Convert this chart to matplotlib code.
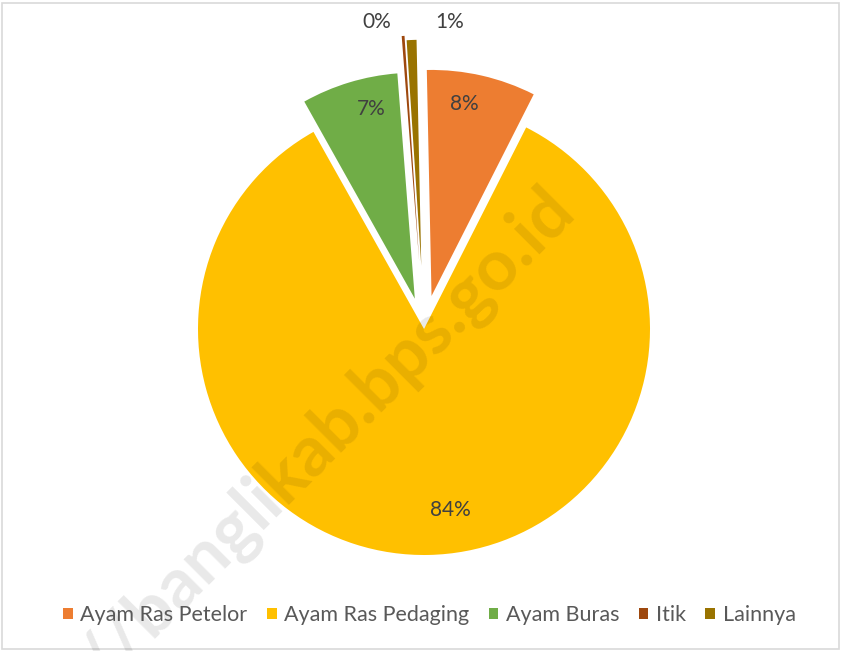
import matplotlib.pyplot as plt
from matplotlib.patches import Rectangle
import numpy as np

plt.rcParams['font.family'] = ['Lato', 'DejaVu Sans']

kategori = ['Ayam Ras Petelor', 'Ayam Ras Pedaging', 'Ayam Buras', 'Itik', 'Lainnya']
persen = [7.8, 84.4, 6.9, 0.2, 0.7]
warna = ['#ED7D31', '#FFC000', '#70AD47', '#9E480E', '#997300']
ledakan = [0.15, 0.0, 0.14, 0.30, 0.28]

W, H = 842, 651
fig = plt.figure(figsize=(W / 100, H / 100), dpi=100)
ax = fig.add_axes([0, 0, 1, 1])

cx, cy, r = 424, H - 329, 226
# explode di matplotlib dalam satuan data, jadi dikali jari-jari
wedges, _ = ax.pie(persen, colors=warna, explode=[e * r for e in ledakan], startangle=91.2,
                   counterclock=False, center=(cx, cy), radius=r,
                   wedgeprops=dict(linewidth=0))
ax.set_xlim(0, W)
ax.set_ylim(0, H)
ax.set_aspect('equal')
ax.axis('off')

# label persen (sudut sedikit digeser spt di gambar asli)
lbl_dist = [0.86, 0.81, 0.86, None, None]
lbl_geser = [3, 7, -4, 0, 0]
for w, p, d, g in zip(wedges, persen, lbl_dist, lbl_geser):
    if d is None:
        continue
    ang = np.deg2rad((w.theta1 + w.theta2) / 2 + g)
    x = w.center[0] + d * r * np.cos(ang)
    y = w.center[1] + d * r * np.sin(ang)
    ax.text(x, y, f'{p:.0f}%', ha='center', va='center', fontsize=15, color='#404040')
# label kecil di luar
ax.text(377, H - 22, f'{persen[3]:.0f}%', ha='center', va='center', fontsize=15, color='#404040')
ax.text(450, H - 22, f'{persen[4]:.0f}%', ha='center', va='center', fontsize=15, color='#404040')

fig.legend(wedges, kategori, loc='center', bbox_to_anchor=(0.51, 0.055), ncol=5,
           frameon=False, fontsize=15.5, handlelength=0.45, handleheight=0.45,
           handletextpad=0.35, columnspacing=0.9, labelcolor='#595959')

# watermark
fig.text(0.39, 0.33, '//banglikab.bps.go.id', rotation=45, fontsize=51,
         fontweight='bold', color='black', alpha=0.09, ha='center', va='center',
         rotation_mode='anchor')

fig.patches.append(Rectangle((0.002, 0.003), 0.995, 0.992, transform=fig.transFigure,
                             fill=False, edgecolor='#D9D9D9', linewidth=1.2))

fig.savefig('out.png', dpi=100)
